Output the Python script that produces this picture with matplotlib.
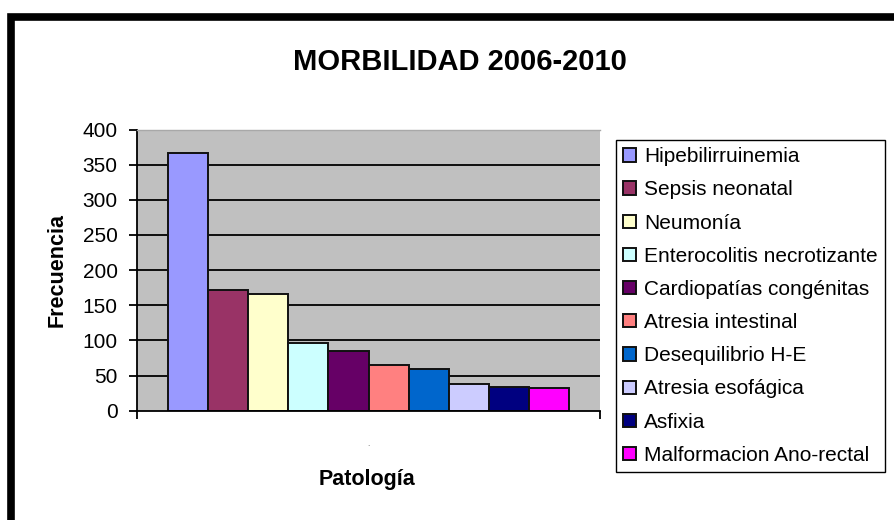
import matplotlib.pyplot as plt
from matplotlib.patches import Rectangle

plt.rcParams['font.family'] = ['Liberation Sans', 'DejaVu Sans']

patologias = ['Hipebilirruinemia', 'Sepsis neonatal', 'Neumonía',
              'Enterocolitis necrotizante', 'Cardiopatías congénitas',
              'Atresia intestinal', 'Desequilibrio H-E', 'Atresia esofágica',
              'Asfixia', 'Malformacion Ano-rectal']
frecuencia = [366, 172, 166, 97, 85, 65, 59, 38, 34, 32]
colores = ['#9999FF', '#993366', '#FFFFCC', '#CCFFFF', '#660066',
           '#FF8080', '#0066CC', '#CCCCFF', '#000080', '#FF00FF']
yticks = [0, 50, 100, 150, 200, 250, 300, 350, 400]

fig = plt.figure(figsize=(8.94, 5.2), dpi=100)
W, H = 894, 520
ax = fig.add_axes([137 / W, 1 - 410.7 / H, 463 / W, 281.2 / H])
ax.set_facecolor('#C0C0C0')

# griglia orizzontale nera
for v in yticks[1:-1]:
    ax.axhline(v, color='black', lw=1.3, zorder=1)

for i, (nome, val, col) in enumerate(zip(patologias, frecuencia, colores)):
    ax.bar(i, val, width=1.0, color=col, edgecolor='#111111',
           linewidth=1.4, label=nome, zorder=2)

gap = 0.78
ax.set_xlim(-0.5 - gap, 9.5 + gap)
ax.set_ylim(0, 400)
ax.set_yticks(yticks)
ax.tick_params(axis='y', labelsize=15, length=6, width=1.3, pad=8, direction='out')
ax.set_xticks([-0.5 - gap, 9.5 + gap])
ax.set_xticklabels(['', ''])
ax.tick_params(axis='x', length=6, width=1.3, direction='out')

ax.spines['top'].set_color('#A8A8A8')
ax.spines['top'].set_linewidth(1)
ax.spines['right'].set_visible(False)
ax.spines['left'].set_linewidth(1.3)
ax.spines['bottom'].set_linewidth(1.3)

ax.text(0.5, -0.12, '.', transform=ax.transAxes, ha='center', va='center',
        fontsize=6, color='#555555')

fig.text(460 / W, 1 - 62 / H, 'MORBILIDAD 2006-2010', ha='center', va='center',
         fontsize=21, fontweight='bold')
fig.text(57 / W, 1 - 270 / H, 'Frecuencia', ha='center', va='center',
         rotation=90, fontsize=15.5, fontweight='bold')
fig.text(367 / W, 1 - 480 / H, 'Patología', ha='center', va='center',
         fontsize=15.5, fontweight='bold')

leg = fig.legend(loc='upper left', bbox_to_anchor=(616 / W, 1 - 140 / H),
                 fontsize=15, frameon=True, fancybox=False, framealpha=1,
                 edgecolor='black', handlelength=0.6, handleheight=0.6,
                 handletextpad=0.4, labelspacing=0.68, borderpad=0.35,
                 borderaxespad=0)
leg.get_frame().set_linewidth(1.0)

# cornice nera della figura
fig.add_artist(Rectangle((11 / W, -0.1), 1.2, 1.1 - 16.5 / H,
                         transform=fig.transFigure, fill=False,
                         edgecolor='black', linewidth=5.5))

fig.savefig('out.png', dpi=100)
